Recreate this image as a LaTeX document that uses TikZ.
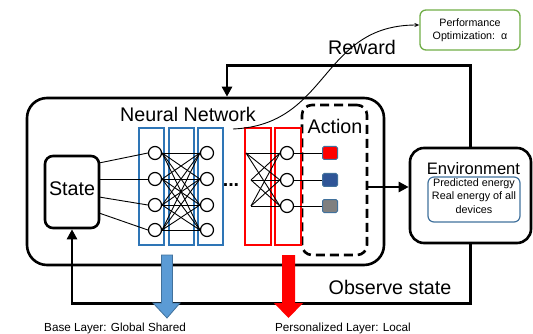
\documentclass[tikz,border=0pt]{standalone}
\usepackage{fontspec}
\setmainfont{Liberation Sans}
\usetikzlibrary{arrows.meta}

\definecolor{layerblue}{RGB}{46,117,182}
\definecolor{arrowblue}{RGB}{91,155,213}
\definecolor{edgeblue}{RGB}{65,113,156}
\definecolor{actblue}{RGB}{47,85,151}
\definecolor{optgreen}{RGB}{112,173,71}

\begin{document}
\begin{tikzpicture}[x=1pt, y=-1pt]
        % Define styles
        \tikzset{
            bigtext/.style={font=\fontsize{19.7}{22}\selectfont, inner sep=0pt, anchor=base},
            smalltext/.style={font=\fontsize{11.7}{13.5}\selectfont, inner sep=0pt, anchor=base},
            block/.style={draw, line width=2.6pt, inner sep=0pt},
            layerbox/.style={draw=#1, line width=1.3pt, minimum width=25pt, minimum height=117pt, inner sep=0pt},
            neuron/.style={circle, draw, fill=white, line width=1.2pt, minimum size=13pt, inner sep=0pt},
            outbox/.style={draw=edgeblue, fill=#1, line width=1pt, rounded corners=1.5pt, minimum width=15pt, minimum height=13pt, inner sep=0pt},
            link/.style={line width=0.9pt},
            flow/.style={line width=2.6pt, -{Triangle[length=10pt,width=10pt]}}
        }
        \useasboundingbox (0,0) rectangle (533,334);

        % Nodes
        \node[block, rounded corners=20pt, minimum width=357pt, minimum height=167pt] (agent) at (205.5,181.5) {};
        \node[block, rounded corners=8pt, minimum width=54pt, minimum height=72pt, font=\fontsize{19.7}{22}\selectfont, text height=14pt, text depth=8pt] (state) at (72,192) {State};
        \node[block, rounded corners=14pt, minimum width=121pt, minimum height=95pt] (env) at (470.5,195.5) {};
        \node[draw, line width=2.6pt, dash pattern=on 9pt off 5pt, rounded corners=10pt, minimum width=65pt, minimum height=150pt] (action) at (334.5,180) {};
        \node[draw=edgeblue, line width=1.2pt, rounded corners=6pt, minimum width=92pt, minimum height=45pt] (envinfo) at (474,199.5) {};
        \node[draw=optgreen, line width=1.3pt, rounded corners=6pt, minimum width=100pt, minimum height=40pt, align=center, font=\fontsize{10.7}{13}\selectfont] (perf) at (470,30) {Performance\\Optimization:\ \ α};

        \node[bigtext] (nntitle) at (188,122) {Neural Network};
        \node[bigtext] (acttitle) at (335,134) {Action};
        \node[bigtext, font=\fontsize{16.6}{18}\selectfont] (envtitle) at (473.5,175) {Environment};
        \node[align=center, inner sep=0pt, font=\fontsize{10.8}{13.5}\selectfont] (envlines) at (474,196) {Predicted energy\\Real energy of all\\devices};
        \node[bigtext] (rewardlabel) at (362,55) {Reward};
        \node[bigtext] (observelabel) at (390,294) {Observe state};
        \node[smalltext] (baselabel) at (115,331) {Base Layer: Global Shared};
        \node[smalltext] (locallabel) at (343,331) {Personalized Layer: Local};

        % Layers
        \node[layerbox=layerblue] (base1) at (151.5,186.5) {};
        \node[layerbox=layerblue] (base2) at (181.5,186.5) {};
        \node[layerbox=layerblue] (base3) at (210.5,186.5) {};
        \node[layerbox=red, minimum width=26pt] (pers1) at (258,186.5) {};
        \node[layerbox=red, minimum width=26pt] (pers2) at (288,186.5) {};
        \node[bigtext, font=\bfseries\fontsize{19.7}{22}\selectfont] (dots) at (231,186) {...};

        % Neurons
        \foreach \i/\y in {1/153,2/179,3/205,4/230} {
            \node[neuron] (a\i) at (155,\y) {};
            \node[neuron] (b\i) at (207,\y) {};
        }
        \foreach \i/\y/\x in {1/163/0,2/179/0,3/197/0,4/213/0}
            \coordinate (s\i) at (99,\y);
        \foreach \i/\y in {1/153,2/180,3/206}
            \node[neuron] (c\i) at (287,\y) {};
        \coordinate (r1) at (246,153);
        \coordinate (r2) at (251,180);
        \coordinate (r3) at (251,206);
        \node[outbox=red] (o1) at (330,153) {};
        \node[outbox=actblue] (o2) at (330,180) {};
        \node[outbox=gray] (o3) at (330,206) {};

        % Links
        \foreach \i in {1,...,4} {
            \draw[link] (s\i) -- (a\i.west);
            \foreach \j in {1,...,4}
                \draw[link] (a\i.east) -- (b\j.west);
        }
        \foreach \i in {1,2,3} {
            \draw[link] (c\i.east) -- (o\i.west);
            \foreach \j in {1,2,3}
                \draw[link] (r\i) -- (c\j.west);
        }

        % Arrows
        \draw[flow] (env.north) -- ++(0,-81) -| ([xshift=21.5pt]agent.north);
        \draw[flow] (env.south) -- ++(0,59) -| (state.south);
        \coordinate (actout) at ([yshift=-7pt]action.east);
        \draw[flow] (actout) -- (actout -| env.west);
        \coordinate (nnout) at (233,129);
        \draw[link, -{Stealth[length=5pt,width=4pt]}] (nnout) .. controls (330,125) and (320,25) .. ([yshift=5pt]perf.west);

        % Layer arrows
        \filldraw[fill=arrowblue, draw=edgeblue, line width=0.8pt] (161.5,255) -- (172.5,255) -- (172.5,303) -- (180,303) -- (167,318) -- (153,303) -- (161.5,303) -- cycle;
        \fill[red] (282,255) -- (295,255) -- (295,303) -- (303,303) -- (288.5,318) -- (274,303) -- (282,303) -- cycle;
    \end{tikzpicture}
\end{document}
